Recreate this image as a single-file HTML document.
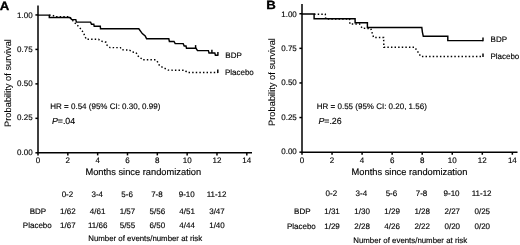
<!DOCTYPE html>
<html><head><meta charset="utf-8"><title>Survival curves</title>
<style>
html,body{margin:0;padding:0;background:#fff;}
body{width:520px;height:245px;overflow:hidden;}
svg{display:block;filter:grayscale(1);text-rendering:geometricPrecision;font-family:"Liberation Sans",sans-serif;}
.ax{stroke:#000;stroke-width:1.5;fill:none;}
.cs{stroke:#000;stroke-width:1.45;fill:none;stroke-linejoin:miter;}
.cd{stroke:#000;stroke-width:1.45;fill:none;stroke-dasharray:1.45 2.15;}
.t8{font-size:8px;fill:#000;stroke:#000;stroke-width:0.14;}
.t9{font-size:9.3px;fill:#000;stroke:#000;stroke-width:0.14;}
.pl{font-size:12px;font-weight:bold;fill:#000;stroke:#000;stroke-width:0.3;}
</style></head>
<body>
<svg width="520" height="245" viewBox="0 0 520 245">
<rect width="520" height="245" fill="#fff"/>
<path class="ax" d="M38,5.5 V152.8 H252"/>
<path class="ax" d="M35.4,152.80 H38"/>
<text class="t8" text-anchor="end" x="32.6" y="154.70">0.00</text>
<path class="ax" d="M35.4,118.34 H38"/>
<text class="t8" text-anchor="end" x="32.6" y="120.47">0.25</text>
<path class="ax" d="M35.4,83.88 H38"/>
<text class="t8" text-anchor="end" x="32.6" y="86.25">0.50</text>
<path class="ax" d="M35.4,49.41 H38"/>
<text class="t8" text-anchor="end" x="32.6" y="52.03">0.75</text>
<path class="ax" d="M35.4,14.95 H38"/>
<text class="t8" text-anchor="end" x="32.6" y="17.80">1.00</text>
<path class="ax" d="M38.00,152.8 V155.4"/>
<text class="t8" text-anchor="middle" x="38.00" y="163.00">0</text>
<path class="ax" d="M67.83,152.8 V155.4"/>
<text class="t8" text-anchor="middle" x="67.83" y="163.00">2</text>
<path class="ax" d="M97.66,152.8 V155.4"/>
<text class="t8" text-anchor="middle" x="97.66" y="163.00">4</text>
<path class="ax" d="M127.49,152.8 V155.4"/>
<text class="t8" text-anchor="middle" x="127.49" y="163.00">6</text>
<path class="ax" d="M157.32,152.8 V155.4"/>
<text class="t8" text-anchor="middle" x="157.32" y="163.00">8</text>
<path class="ax" d="M187.15,152.8 V155.4"/>
<text class="t8" text-anchor="middle" x="187.15" y="163.00">10</text>
<path class="ax" d="M216.98,152.8 V155.4"/>
<text class="t8" text-anchor="middle" x="216.98" y="163.00">12</text>
<path class="ax" d="M246.81,152.8 V155.4"/>
<text class="t8" text-anchor="middle" x="246.81" y="163.00">14</text>
<path class="cs" d="M38.00,15.10 L49.30,15.10 L49.30,17.40 L69.60,17.40 L71.80,19.60 L75.80,19.60 L76.40,22.10 L90.60,22.10 L91.50,24.20 L93.80,24.20 L94.20,26.30 L100.30,26.30 L100.50,28.80 L138.80,28.80 L142.30,33.60 L145.20,36.00 L146.60,38.80 L168.80,38.80 L169.40,41.50 L174.00,41.50 L175.20,43.60 L183.20,43.60 L184.20,46.00 L186.00,46.00 L186.50,48.30 L196.00,48.30 L197.50,50.60 L208.40,50.60 L209.00,52.90 L214.80,52.90 L215.40,55.20 L217.90,55.20"/>
<path class="cd" d="M49.30,15.10 L52.50,15.10 L55.00,16.60 L69.60,16.60 L71.70,19.40 L75.00,23.00 L78.30,26.20 L81.30,29.60 L83.50,32.90 L85.20,36.90 L86.30,39.30 L98.50,39.30 L100.80,41.00 L106.00,42.20 L107.10,45.20 L110.00,47.60 L120.40,47.60 L122.10,49.80 L129.60,50.10 L131.90,51.90 L136.00,52.50 L138.80,57.10 L142.30,59.00 L142.50,59.80 L155.60,59.80 L157.90,62.30 L159.60,65.80 L164.20,68.10 L168.30,70.10 L184.80,70.30 L187.30,72.40 L217.80,72.40"/>
<path class="cs" d="M195.6,48.3 v-3.2"/>
<path class="cs" d="M211.9,52.9 v-3.2"/>
<path class="cs" d="M217.9,55.8 v-3.8"/>
<path class="cs" d="M217.8,73 v-3.6"/>
<text class="pl" transform="translate(-0.2,9.5) scale(1.1,1)">A</text>
<text class="t8" x="50.3" y="109.4">HR = 0.54 (95% CI: 0.30, 0.99)</text>
<text class="t8" style="font-size:8.8px" x="51.9" y="123.9"><tspan font-style="italic">P</tspan>=.04</text>
<text class="t8" x="225.3" y="57.5">BDP</text>
<text class="t8" x="224.9" y="74.5">Placebo</text>
<text class="t9" style="stroke-width:0.05" text-anchor="middle" transform="translate(11.2,83) rotate(-90)">Probability of survival</text>
<text class="t9" text-anchor="middle" x="143.3" y="175">Months since randomization</text>
<text class="t8" text-anchor="middle" x="67.43" y="196.6">0-2</text>
<text class="t8" text-anchor="middle" x="67.83" y="214.0">1/62</text>
<text class="t8" text-anchor="middle" x="67.83" y="228.4">1/67</text>
<text class="t8" text-anchor="middle" x="97.26" y="196.6">3-4</text>
<text class="t8" text-anchor="middle" x="97.66" y="214.0">4/61</text>
<text class="t8" text-anchor="middle" x="97.66" y="228.4">11/66</text>
<text class="t8" text-anchor="middle" x="127.09" y="196.6">5-6</text>
<text class="t8" text-anchor="middle" x="127.49" y="214.0">1/57</text>
<text class="t8" text-anchor="middle" x="127.49" y="228.4">5/55</text>
<text class="t8" text-anchor="middle" x="156.92" y="196.6">7-8</text>
<text class="t8" text-anchor="middle" x="157.32" y="214.0">5/56</text>
<text class="t8" text-anchor="middle" x="157.32" y="228.4">6/50</text>
<text class="t8" text-anchor="middle" x="186.75" y="196.6">9-10</text>
<text class="t8" text-anchor="middle" x="187.15" y="214.0">4/51</text>
<text class="t8" text-anchor="middle" x="187.15" y="228.4">4/44</text>
<text class="t8" text-anchor="middle" x="216.58" y="196.6">11-12</text>
<text class="t8" text-anchor="middle" x="216.98" y="214.0">3/47</text>
<text class="t8" text-anchor="middle" x="216.98" y="228.4">1/40</text>
<text class="t8" text-anchor="end" x="46.2" y="214.0">BDP</text>
<text class="t8" text-anchor="end" x="51.75" y="228.4">Placebo</text>
<text class="t8" style="font-size:7.85px" text-anchor="middle" x="145.2" y="240.9">Number of events/number at risk</text>
<path class="ax" d="M302,4 V152.15 H517.5"/>
<path class="ax" d="M299.4,152.15 H302"/>
<text class="t8" text-anchor="end" x="296.8" y="154.00">0.00</text>
<path class="ax" d="M299.4,117.55 H302"/>
<text class="t8" text-anchor="end" x="296.8" y="119.70">0.25</text>
<path class="ax" d="M299.4,82.95 H302"/>
<text class="t8" text-anchor="end" x="296.8" y="85.40">0.50</text>
<path class="ax" d="M299.4,48.35 H302"/>
<text class="t8" text-anchor="end" x="296.8" y="51.10">0.75</text>
<path class="ax" d="M299.4,13.75 H302"/>
<text class="t8" text-anchor="end" x="296.8" y="16.80">1.00</text>
<path class="ax" d="M302.00,152.15 V154.75"/>
<text class="t8" text-anchor="middle" x="302.00" y="162.80">0</text>
<path class="ax" d="M332.05,152.15 V154.75"/>
<text class="t8" text-anchor="middle" x="332.05" y="162.80">2</text>
<path class="ax" d="M362.10,152.15 V154.75"/>
<text class="t8" text-anchor="middle" x="362.10" y="162.80">4</text>
<path class="ax" d="M392.15,152.15 V154.75"/>
<text class="t8" text-anchor="middle" x="392.15" y="162.80">6</text>
<path class="ax" d="M422.20,152.15 V154.75"/>
<text class="t8" text-anchor="middle" x="422.20" y="162.80">8</text>
<path class="ax" d="M452.25,152.15 V154.75"/>
<text class="t8" text-anchor="middle" x="452.25" y="162.80">10</text>
<path class="ax" d="M482.30,152.15 V154.75"/>
<text class="t8" text-anchor="middle" x="482.30" y="162.80">12</text>
<path class="ax" d="M512.35,152.15 V154.75"/>
<text class="t8" text-anchor="middle" x="512.35" y="162.80">14</text>
<path class="cs" d="M302.00,14.00 L314.10,14.00 L314.10,18.70 L355.10,18.70 L355.10,22.80 L367.40,22.80 L367.40,27.40 L421.80,27.40 L422.40,32.10 L423.30,36.30 L447.80,36.30 L447.80,40.60 L483.00,40.60"/>
<path class="cd" d="M314.10,14.20 L325.30,14.20 L325.70,18.90 L349.60,18.90 L349.90,24.00 L359.60,24.00 L362.30,28.30 L370.80,28.50 L373.60,37.40 L383.60,37.40 L383.90,47.20 L414.60,47.20 L417.00,50.50 L420.70,56.50 L483.00,56.50"/>
<path class="cs" d="M483,41.2 v-3.6"/>
<path class="cs" d="M483,57.1 v-3.6"/>
<text class="pl" transform="translate(266.2,9.4) scale(1.1,1)">B</text>
<text class="t8" x="316.8" y="108.6">HR = 0.55 (95% CI: 0.20, 1.56)</text>
<text class="t8" style="font-size:8.8px" x="318.40000000000003" y="123.9"><tspan font-style="italic">P</tspan>=.26</text>
<text class="t8" x="490.6" y="41.9">BDP</text>
<text class="t8" x="490.4" y="59.2">Placebo</text>
<text class="t9" style="stroke-width:0.05" text-anchor="middle" transform="translate(275.2,82) rotate(-90)">Probability of survival</text>
<text class="t9" text-anchor="middle" x="409.5" y="174.7">Months since randomization</text>
<text class="t8" text-anchor="middle" x="331.35" y="196.4">0-2</text>
<text class="t8" text-anchor="middle" x="332.05" y="214.1">1/31</text>
<text class="t8" text-anchor="middle" x="332.05" y="228.6">1/29</text>
<text class="t8" text-anchor="middle" x="361.40" y="196.4">3-4</text>
<text class="t8" text-anchor="middle" x="362.10" y="214.1">1/30</text>
<text class="t8" text-anchor="middle" x="362.10" y="228.6">2/28</text>
<text class="t8" text-anchor="middle" x="391.45" y="196.4">5-6</text>
<text class="t8" text-anchor="middle" x="392.15" y="214.1">1/29</text>
<text class="t8" text-anchor="middle" x="392.15" y="228.6">4/26</text>
<text class="t8" text-anchor="middle" x="421.50" y="196.4">7-8</text>
<text class="t8" text-anchor="middle" x="422.20" y="214.1">1/28</text>
<text class="t8" text-anchor="middle" x="422.20" y="228.6">2/22</text>
<text class="t8" text-anchor="middle" x="451.55" y="196.4">9-10</text>
<text class="t8" text-anchor="middle" x="452.25" y="214.1">2/27</text>
<text class="t8" text-anchor="middle" x="452.25" y="228.6">0/20</text>
<text class="t8" text-anchor="middle" x="481.60" y="196.4">11-12</text>
<text class="t8" text-anchor="middle" x="482.30" y="214.1">0/25</text>
<text class="t8" text-anchor="middle" x="482.30" y="228.6">0/20</text>
<text class="t8" text-anchor="end" x="310.5" y="214.1">BDP</text>
<text class="t8" text-anchor="end" x="315.8" y="228.6">Placebo</text>
<text class="t8" style="font-size:7.85px" text-anchor="middle" x="410.2" y="242.5">Number of events/number at risk</text>
</svg>
</body></html>
